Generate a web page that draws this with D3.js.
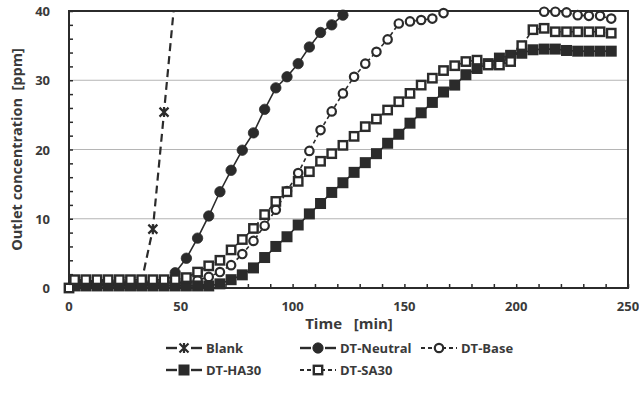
<!DOCTYPE html>
<html><head><meta charset="utf-8">
<script src="https://cdn.jsdelivr.net/npm/d3@7"></script>
<style>
body{margin:0;background:#fff;}
text{font-family:"Open Sans","DejaVu Sans",sans-serif;font-weight:700;fill:#3a3a3a;}
</style></head>
<body><svg id="c" width="639" height="407"></svg>
<script>
// ---- data ----
const times = [0, 2.5, 7.5, 12.5, 17.5, 22.5, 27.5, 32.5, 37.5, 42.5, 47.5,
  52.5, 57.5, 62.5, 67.5, 72.5, 77.5, 82.5, 87.5, 92.5, 97.5,
  102.5, 107.5, 112.5, 117.5, 122.5, 127.5, 132.5, 137.5, 142.5, 147.5,
  152.5, 157.5, 162.5, 167.5, 172.5, 177.5, 182.5, 187.5, 192.5, 197.5,
  202.5, 207.5, 212.5, 217.5, 222.5, 227.5, 232.5, 237.5, 242.5];
const blank = [null, 1, 1, 1, 1, 1, 1, 1, 8.5, 25.4, 42.5];
const dtNeutral = [null, 0.5, 0.5, 0.5, 0.5, 0.5, 0.5, 0.5, 0.5, 0.8,
  2.2, 4.3, 7.2, 10.4, 13.9, 17.0, 19.9, 22.4, 25.8, 28.9, 30.5, 32.4, 34.8, 36.9, 38.0, 39.4];
const dtBase = [null, 0.7, 0.7, 0.7, 0.7, 0.7, 0.7, 0.7, 0.7, 0.7, 0.7,
  0.8, 1.1, 1.6, 2.3, 3.3, 4.9, 6.8, 9.0, 11.3, 14.0, 16.6, 19.8, 22.8, 25.5, 28.1,
  30.5, 32.4, 34.1, 35.9, 38.2, 38.5, 38.7, 38.9, 39.7, 41.5, 42, 42.5, 42.5, 42.5,
  42, 41.5, 41, 39.9, 39.9, 39.8, 39.4, 39.3, 39.3, 38.9];
const dtHA30 = [null, 0.3, 0.3, 0.3, 0.3, 0.3, 0.3, 0.3, 0.3, 0.3, 0.3, 0.3, 0.3, 0.3,
  0.6, 1.2, 1.9, 2.9, 4.4, 6.0, 7.4, 9.1, 10.7, 12.2, 13.8, 15.2, 16.7, 18.1, 19.4, 20.9,
  22.2, 23.8, 25.3, 26.8, 28.3, 29.3, 30.8, 31.7, 32.4, 33.2, 33.6, 33.9, 34.4, 34.5,
  34.5, 34.3, 34.2, 34.2, 34.2, 34.2];
const dtSA30 = [0, 1.2, 1.2, 1.2, 1.2, 1.2, 1.2, 1.2, 1.2, 1.2, 1.2,
  1.5, 2.3, 3.2, 4.0, 5.5, 7.0, 8.6, 10.6, 12.5, 13.9, 15.4, 16.8, 18.3, 19.4, 20.6,
  21.9, 23.3, 24.4, 25.7, 26.9, 28.1, 29.3, 30.3, 31.4, 32.1, 32.7, 32.9, 32.2, 32.2,
  32.7, 35.0, 37.3, 37.5, 37.0, 37.0, 37.0, 37.0, 37.0, 36.8];
const seriesNames = ["Blank", "DT-Neutral", "DT-Base", "DT-HA30", "DT-SA30"];
const xTickLabels = [0, 50, 100, 150, 200, 250];
const yTickLabels = [0, 10, 20, 30, 40];
const xTitle = "Time\u00a0\u00a0\u00a0[min]";
const yTitle = "Outlet concentration\u00a0\u00a0[ppm]";

// ---- layout ----
const W = 639, H = 407;
const m = {left: 69, right: 11, top: 11, bottom: 119};
const pw = W - m.left - m.right, ph = H - m.top - m.bottom;
const ink = "#2b2b2b";
const svg = d3.select("#c");
const x = d3.scaleLinear().domain([0, 250]).range([m.left, m.left + pw]);
const y = d3.scaleLinear().domain([0, 40]).range([m.top + ph, m.top]);

svg.append("defs").append("clipPath").attr("id", "clip")
  .append("rect").attr("x", m.left).attr("y", m.top).attr("width", pw).attr("height", ph);

// gridlines
svg.append("g").selectAll("line").data([10, 20, 30]).join("line")
  .attr("x1", m.left).attr("x2", m.left + pw)
  .attr("y1", d => y(d)).attr("y2", d => y(d))
  .attr("stroke", "#b5b5b5").attr("stroke-width", 1);

// axes
const yAxis = svg.append("g").attr("transform", `translate(${m.left},0)`)
  .call(d3.axisRight(y).tickValues(d3.range(0, 41, 2)).tickSize(4).tickFormat(""));
const xAxis = svg.append("g").attr("transform", `translate(0,${m.top + ph})`)
  .call(d3.axisTop(x).tickValues(d3.range(0, 251, 10)).tickSize(4).tickFormat(""));
[yAxis, xAxis].forEach(g => {
  g.select(".domain").remove();
  g.selectAll(".tick line").attr("stroke", ink).attr("stroke-width", 1.5);
});
// frame
svg.append("rect").attr("x", m.left).attr("y", m.top).attr("width", pw).attr("height", ph)
  .attr("fill", "none").attr("stroke", ink).attr("stroke-width", 2);

// tick labels
svg.append("g").selectAll("text").data(xTickLabels).join("text")
  .attr("x", d => x(d)).attr("y", 311).attr("text-anchor", "middle")
  .attr("font-size", 13).text(d => d);
svg.append("g").selectAll("text").data(yTickLabels).join("text")
  .attr("x", 50).attr("y", d => y(d) + 5).attr("text-anchor", "end")
  .attr("font-size", 13).text(d => d);

// titles
svg.append("text").attr("x", 349).attr("y", 329).attr("text-anchor", "middle")
  .attr("font-size", 15).text(xTitle);
svg.append("text").attr("transform", `translate(22,${m.top + ph / 2}) rotate(-90)`)
  .attr("text-anchor", "middle").attr("font-size", 14.5).text(yTitle);

// markers
function drawMarker(g, type, cx, cy) {
  if (type === "x") {
    const s = 4.5;
    g.append("path").attr("d", `M${cx - s},${cy - s}L${cx + s},${cy + s}M${cx - s},${cy + s}L${cx + s},${cy - s}M${cx},${cy - s - 0.5}L${cx},${cy + s + 0.5}`)
      .attr("stroke", ink).attr("stroke-width", 2.2).attr("fill", "none");
  } else if (type === "fc") {
    g.append("circle").attr("cx", cx).attr("cy", cy).attr("r", 5.2).attr("fill", ink).attr("stroke", ink).attr("stroke-width", 0.8);
  } else if (type === "oc") {
    g.append("circle").attr("cx", cx).attr("cy", cy).attr("r", 4.2).attr("fill", "#fff").attr("stroke", ink).attr("stroke-width", 2.2);
  } else if (type === "fs") {
    g.append("rect").attr("x", cx - 5.5).attr("y", cy - 5.5).attr("width", 11).attr("height", 11).attr("fill", ink);
  } else if (type === "os") {
    g.append("rect").attr("x", cx - 4.2).attr("y", cy - 4.2).attr("width", 8.4).attr("height", 8.4).attr("fill", "#fff").attr("stroke", ink).attr("stroke-width", 2.4);
  }
}

const series = [
  {name: seriesNames[0], vals: blank, marker: "x", dash: "8,5", sw: 2.2, legDash: null},
  {name: seriesNames[1], vals: dtNeutral, marker: "fc", dash: null, sw: 1.6, legDash: null},
  {name: seriesNames[2], vals: dtBase, marker: "oc", dash: "4,3", sw: 1.6, legDash: "4,3"},
  {name: seriesNames[3], vals: dtHA30, marker: "fs", dash: null, sw: 1.6, legDash: null},
  {name: seriesNames[4], vals: dtSA30, marker: "os", dash: "4,3", sw: 1.6, legDash: "4,3"}
];

const line = d3.line().defined(d => d.v != null).x(d => x(d.t)).y(d => y(d.v));
series.forEach(s => {
  const pts = times.map((t, i) => ({t, v: s.vals[i] == null ? null : s.vals[i]})).filter(d => d.v != null);
  const g = svg.append("g");
  g.append("path").datum(pts).attr("d", line).attr("clip-path", "url(#clip)")
    .attr("fill", "none").attr("stroke", ink).attr("stroke-width", s.sw)
    .attr("stroke-dasharray", s.dash);
  pts.filter(d => d.v <= 40).forEach(d => drawMarker(g, s.marker, x(d.t), y(d.v)));
});

// legend
const legendPos = [
  {x: 166, y: 348}, {x: 300, y: 348}, {x: 421, y: 348},
  {x: 166, y: 370}, {x: 300, y: 370}
];
series.forEach((s, i) => {
  const p = legendPos[i];
  const g = svg.append("g");
  if (s.legDash) {
    g.append("line").attr("x1", p.x).attr("x2", p.x + 36).attr("y1", p.y).attr("y2", p.y)
      .attr("stroke", ink).attr("stroke-width", 1.8).attr("stroke-dasharray", s.legDash);
  } else {
    [[p.x, p.x + 11], [p.x + 25, p.x + 36]].forEach(([a, b]) =>
      g.append("line").attr("x1", a).attr("x2", b).attr("y1", p.y).attr("y2", p.y)
        .attr("stroke", ink).attr("stroke-width", 2.4));
  }
  drawMarker(g, s.marker, p.x + 18, p.y);
  g.append("text").attr("x", p.x + 40).attr("y", p.y + 5).attr("font-size", 13).text(s.name);
});
</script></body></html>
